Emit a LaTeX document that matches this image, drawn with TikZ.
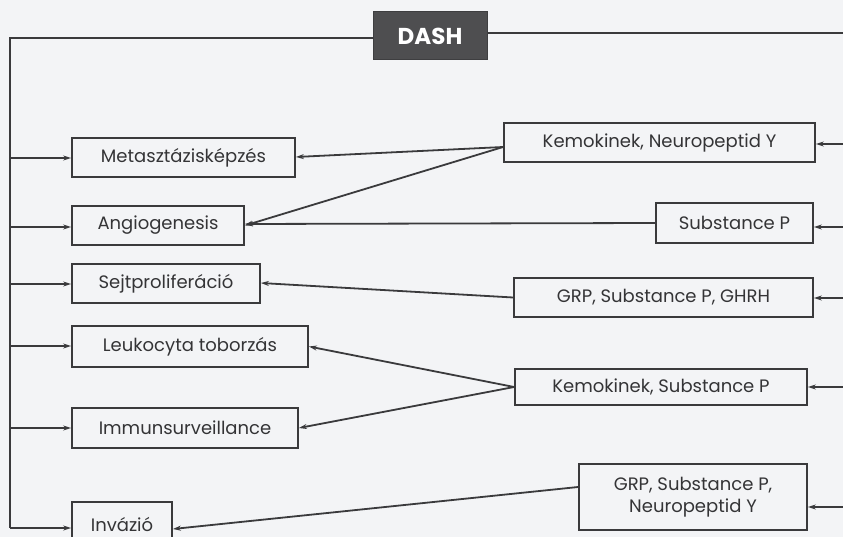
\documentclass[tikz,border=0pt]{standalone}
\usepackage{fontspec}
\setmainfont{Poppins}
\usetikzlibrary{arrows.meta}
\definecolor{ink}{HTML}{3A3A3C}
\definecolor{paper}{HTML}{F3F4F6}
\definecolor{dashfill}{HTML}{4E4E50}
\begin{document}
\begin{tikzpicture}[x=1pt,y=-1pt,
  box/.style={draw=ink,line width=1.8pt,fill=paper,inner sep=0pt,align=center,
     font=\fontsize{18}{22}\selectfont,text=ink!90!black},
  conn/.style={draw=ink,line width=1.8pt,-{Stealth[length=8pt,width=5pt]}},
  plain/.style={draw=ink,line width=1.8pt}]
\fill[paper] (0,0) rectangle (843,537);
\useasboundingbox (0,0) rectangle (843,537);
\clip (0,0) rectangle (843,537);
% top
\node[draw=dashfill!80!black,line width=1pt,fill=dashfill,minimum width=114pt,minimum height=48pt,inner sep=0pt,
  text=white,font=\fontsize{23}{26}\bfseries\selectfont] (dash) at (430,36) {DASH};
% left boxes
\node[box,minimum width=223pt,minimum height=39pt] (meta) at (183.5,157.5) {Metasztázisképzés};
\node[box,minimum width=172pt,minimum height=39pt] (angio) at (158,225.5) {Angiogenesis};
\node[box,minimum width=188pt,minimum height=39pt] (sejt) at (166,283.5) {Sejtproliferáció};
\node[box,minimum width=236pt,minimum height=41pt] (leuko) at (190,346.5) {Leukocyta toborzás};
\node[box,minimum width=226pt,minimum height=40pt] (immun) at (185,428) {Immunsurveillance};
\node[box,minimum width=100pt,minimum height=44pt] (inv) at (122,524) {Invázió};
% right boxes
\node[box,minimum width=311pt,minimum height=39pt] (knpy) at (659.5,142.5) {Kemokinek, Neuropeptid Y};
\node[box,minimum width=157pt,minimum height=40pt] (sp) at (734.5,223) {Substance P};
\node[box,minimum width=299pt,minimum height=39pt] (grpa) at (663.5,297.5) {GRP, Substance P, GHRH};
\node[box,minimum width=292pt,minimum height=36pt] (ksp) at (661,387) {Kemokinek, Substance P};
\node[box,minimum width=228pt,minimum height=66pt] (grpb) at (693,497) {GRP, Substance P,\\Neuropeptid Y};
% coordinates
\coordinate (ltop) at (10,38);
\coordinate (lbot) at (10,528);
\coordinate (rtop) at (843,33);
\foreach \n/\y in {meta/158,angio/227,sejt/284,leuko/346,immun/428}{
  \coordinate (l\n) at (10,\y);
}
\foreach \n/\y in {knpy/144,sp/227,grpa/298,ksp/387,grpb/507}{
  \coordinate (r\n) at (843,\y);
}
% left trunk
\draw[plain] (dash.west |- ltop) -- (ltop) -- (lbot);
\draw[conn] (lbot) -- (lbot -| inv.west);
\foreach \n in {meta,angio,sejt,leuko,immun}{
  \draw[conn] (l\n) -- (l\n -| \n.west);
}
% right trunk
\draw[plain] (dash.east |- rtop) -- (rtop);
\foreach \n in {knpy,sp,grpa,ksp,grpb}{
  \draw[conn] (r\n) -- (r\n -| \n.east);
}
% cross connectors
\draw[conn] ([yshift=-4.5pt]knpy.west) -- ([yshift=0.5pt]meta.east);
\draw[conn] ([yshift=-4.5pt]knpy.west) -- (angio.east);
\draw[conn] (sp.west) -- ([yshift=1.5pt]angio.east);
\draw[conn] (grpa.west) -- ([yshift=0.5pt]sejt.east);
\draw[conn] (ksp.west) -- (leuko.east);
\draw[conn] (ksp.west) -- (immun.east);
\draw[conn] ([yshift=10pt]grpb.west) -- ([yshift=-5pt]inv.east);
\end{tikzpicture}
\end{document}
